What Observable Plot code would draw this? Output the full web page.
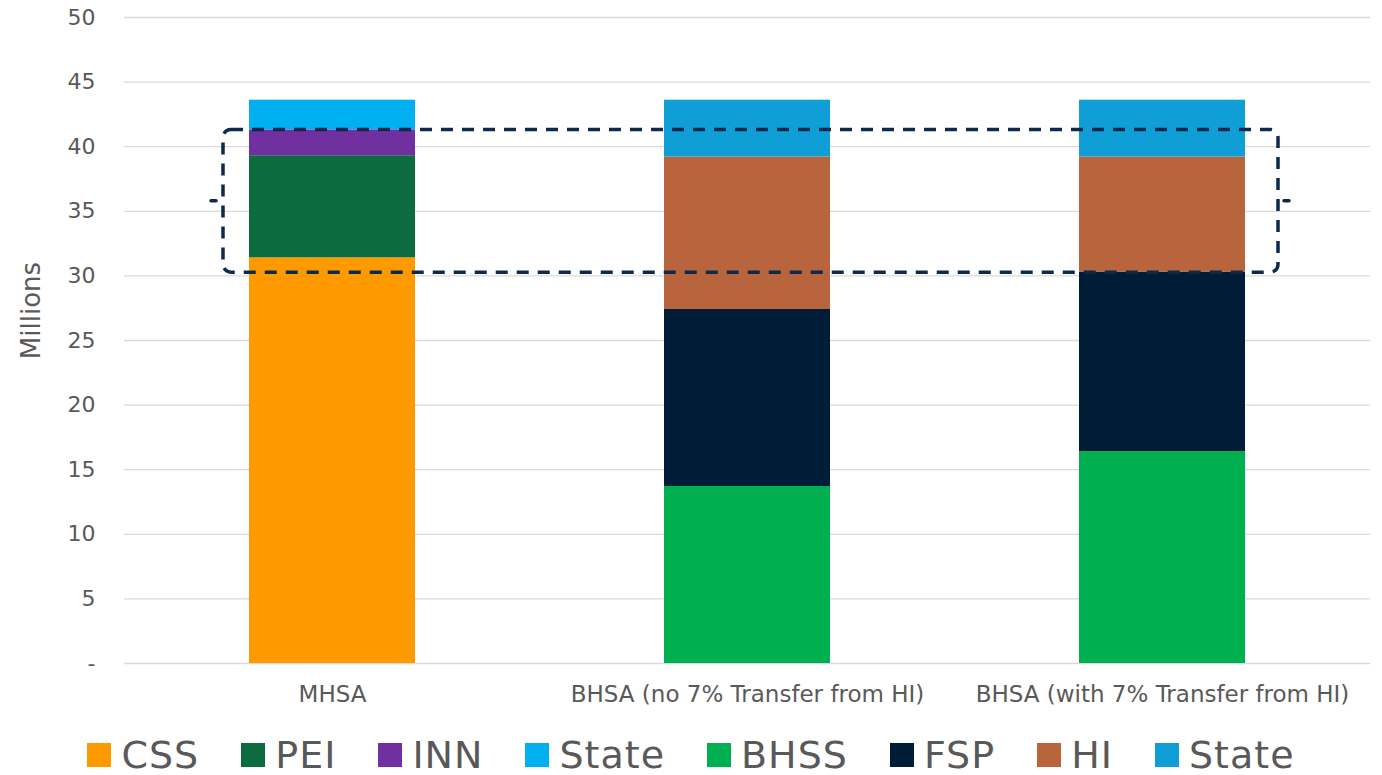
<!DOCTYPE html>
<html>
<head>
<meta charset="utf-8">
<script src="https://cdn.jsdelivr.net/npm/d3@7"></script>
<script src="https://cdn.jsdelivr.net/npm/@observablehq/plot@0.6"></script>
<style>
  body { margin: 0; background: white; font-family: "DejaVu Sans", sans-serif; }
  #legend { display: flex; justify-content: center; align-items: center; height: 38px; line-height: 38px; margin-top: 19px; color: #595959; font-size: 38px; letter-spacing: 1px; }
  .item { display: flex; align-items: center; margin-right: 42px; }
  .item:last-child { margin-right: 0; }
  .sw { width: 24px; height: 24px; margin-right: 10px; }
</style>
</head>
<body>
<div id="chart"></div>
<div id="legend"></div>
<script>
const categories = ["MHSA", "BHSA (no 7% Transfer from HI)", "BHSA (with 7% Transfer from HI)"];
const seriesKeys = ["CSS", "PEI", "INN", "State (MHSA)", "BHSS", "FSP", "HI", "State (BHSA)"];
const seriesLabels = ["CSS", "PEI", "INN", "State", "BHSS", "FSP", "HI", "State"];
const seriesColors = ["#FF9900", "#0C6B3F", "#7030A0", "#00B0F0", "#00B050", "#011C37", "#B8653E", "#0F9FD6"];
const CSS = [31.4, 0, 0];
const PEI = [7.9, 0, 0];
const INN = [2.0, 0, 0];
const StateM = [2.3, 0, 0];
const BHSS = [0, 13.7, 16.4];
const FSP = [0, 13.7, 13.9];
const HI = [0, 11.8, 8.9];
const StateB = [0, 4.4, 4.4];
const seriesValues = [CSS, PEI, INN, StateM, BHSS, FSP, HI, StateB];
const yTicks = [0, 5, 10, 15, 20, 25, 30, 35, 40, 45, 50];
const boxRange = [30.25, 41.3];

const rows = [];
seriesKeys.forEach((k, i) => {
  categories.forEach((c, j) => {
    if (seriesValues[i][j] > 0) rows.push({category: c, key: k, value: seriesValues[i][j]});
  });
});

const boxStroke = "#0C2A4D";
function boxRender(index, scales, values, dims) {
  const x = scales.x, y = scales.y;
  const bw = x.bandwidth ? x.bandwidth() : (x(categories[1]) - x(categories[0])) * 0.4;
  const left = x(categories[0]) - 26;
  const right = x(categories[categories.length - 1]) + bw + 33;
  const top = y(boxRange[1]);
  const bottom = y(boxRange[0]);
  const mid = (top + bottom) / 2;
  const g = d3.create("svg:g");
  g.append("rect")
    .attr("x", left).attr("y", top)
    .attr("width", right - left).attr("height", bottom - top)
    .attr("rx", 8).attr("ry", 8)
    .attr("fill", "none").attr("stroke", boxStroke)
    .attr("stroke-width", 3.5).attr("stroke-dasharray", "12 9");
  g.append("line").attr("x1", left - 12).attr("x2", left - 7).attr("y1", mid).attr("y2", mid)
    .attr("stroke", boxStroke).attr("stroke-width", 3.5).attr("stroke-linecap", "round");
  g.append("line").attr("x1", right + 6).attr("x2", right + 11).attr("y1", mid).attr("y2", mid)
    .attr("stroke", boxStroke).attr("stroke-width", 3.5).attr("stroke-linecap", "round");
  return g.node();
}

const chart = Plot.plot({
  width: 1382,
  height: 717,
  marginTop: 17,
  marginBottom: 54,
  marginLeft: 124,
  marginRight: 12,
  style: {fontFamily: "DejaVu Sans", fontSize: "21px", color: "#595959", background: "white"},
  x: {domain: categories, paddingInner: 0.6, paddingOuter: 0.3, label: null},
  y: {domain: [0, 50], label: null},
  color: {domain: seriesKeys, range: seriesColors},
  marks: [
    Plot.gridY(yTicks, {stroke: "#D9D9D9", strokeOpacity: 1, strokeWidth: 1.3}),
    Plot.barY(rows, {x: "category", y: "value", fill: "key"}),
    Plot.axisY(yTicks, {tickSize: 0, tickPadding: 29, fontSize: 22, label: null,
      tickFormat: d => d === 0 ? "-" : String(d)}),
    Plot.axisX({tickSize: 0, tickPadding: 22, fontSize: 23, label: null}),
    Plot.text(["Millions"], {frameAnchor: "left", textAnchor: "middle", rotate: -90, dx: -93, dy: -30, fontSize: 26, fill: "#595959"}),
    boxRender
  ]
});
document.getElementById("chart").appendChild(chart);

const legend = document.getElementById("legend");
seriesKeys.forEach((k, i) => {
  const item = document.createElement("div");
  item.className = "item";
  const sw = document.createElement("div");
  sw.className = "sw";
  sw.style.background = seriesColors[i];
  const t = document.createElement("span");
  t.textContent = seriesLabels[i];
  item.appendChild(sw);
  item.appendChild(t);
  legend.appendChild(item);
});
</script>
</body>
</html>
